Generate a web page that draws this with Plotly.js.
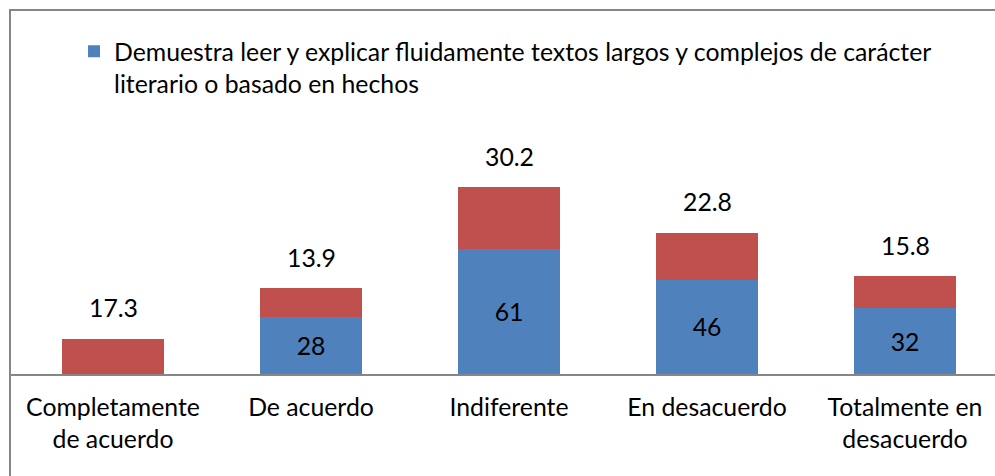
<!DOCTYPE html>
<html>
<head>
<meta charset="utf-8">
<script src="https://cdn.plot.ly/plotly-3.0.1.min.js"></script>
<style>
html,body{margin:0;padding:0;overflow:hidden;background:#fff;}
#chart{width:995px;height:476px;}
</style>
</head>
<body>
<div id="chart"></div>
<script>
const categories = ["Completamente<br>de acuerdo", "De acuerdo", "Indiferente", "En desacuerdo", "Totalmente en<br>desacuerdo"];
const countValues = [null, 28, 61, 46, 32];
const percentValues = [17.3, 13.9, 30.2, 22.8, 15.8];
const seriesName = "Demuestra leer y explicar fluidamente textos largos y complejos de carácter<br>literario o basado en hechos";

const FONT = "Lato, 'Open Sans', sans-serif";
const FS = 24.8;

const traceCount = {
  type: "bar",
  name: seriesName,
  x: categories,
  y: countValues,
  marker: {color: "#4F81BD"},
  text: countValues.map(v => v == null ? "" : String(v)),
  textposition: "inside",
  insidetextanchor: "middle",
  textfont: {family: FONT, size: FS, color: "#000"},
  constraintext: "none",
  hoverinfo: "x+y",
  showlegend: true
};
const tracePct = {
  type: "bar",
  name: "Porcentaje",
  x: categories,
  y: percentValues,
  marker: {color: "#C0504D"},
  hoverinfo: "x+y",
  showlegend: false
};

const annotations = categories.map((c, i) => ({
  x: c,
  y: (countValues[i] || 0) + percentValues[i],
  xref: "x", yref: "y",
  text: percentValues[i].toFixed(1),
  showarrow: false,
  yanchor: "middle",
  yshift: 31,
  font: {family: FONT, size: FS, color: "#000"}
}));

const layout = {
  width: 995, height: 476,
  margin: {l: 10, r: 0, t: 169, b: 102},
  paper_bgcolor: "#fff",
  plot_bgcolor: "#fff",
  barmode: "stack",
  bargap: 0.485,
  font: {family: FONT, size: FS, color: "#000"},
  xaxis: {
    type: "category",
    range: [-0.5202, 4.4545],
    showline: true, linecolor: "#868686", linewidth: 2,
    ticks: "", showgrid: false, zeroline: false,
    tickfont: {family: FONT, size: FS, color: "#000"},
    ticklabelstandoff: 10,
    fixedrange: true
  },
  yaxis: {
    range: [0, 100],
    visible: false, showgrid: false, zeroline: false,
    fixedrange: true
  },
  showlegend: true,
  legend: {
    x: 0.065, xanchor: "left",
    y: 1.685, yanchor: "top",
    font: {family: FONT, size: FS, color: "#000"},
    bgcolor: "rgba(0,0,0,0)",
    valign: "top",
    itemclick: false, itemdoubleclick: false
  },
  annotations: annotations,
  shapes: [{
    type: "rect", xref: "paper", yref: "paper",
    x0: 0, x1: 1.2, y0: -1, y1: (374 - 10) / 205,
    line: {color: "#868686", width: 2}, fillcolor: "rgba(0,0,0,0)",
    layer: "below"
  }]
};

Plotly.newPlot("chart", [traceCount, tracePct], layout, {displayModeBar: false, staticPlot: true});
</script>
</body>
</html>
